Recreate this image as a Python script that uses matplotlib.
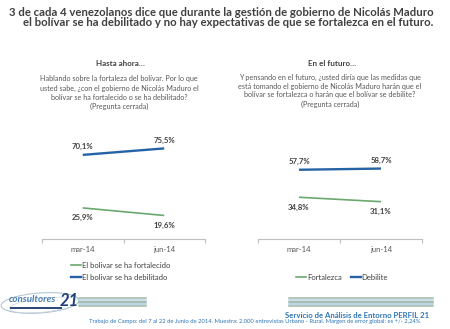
import matplotlib
matplotlib.use("Agg")
import matplotlib.pyplot as plt
from matplotlib.lines import Line2D
from matplotlib.patches import Ellipse, Rectangle

plt.rcParams['font.family'] = ['Lato', 'DejaVu Sans']

categories = ["mar-14", "jun-14"]
left_debilitado = [70.1, 75.5]
left_fortalecido = [25.9, 19.6]
right_debilite = [57.7, 58.7]
right_fortalezca = [34.8, 31.1]
left_legend = ["El bolivar se ha fortalecido", "El bolivar se ha debilitado"]
right_legend = ["Fortalezca", "Debilite"]

BLUE = "#2563a6"
GREEN = "#6aa86e"
GRAY = "#404040"
TXT = "#595959"
W, H = 450, 329

fig = plt.figure(figsize=(4.5, 3.29), dpi=100)
fig.patch.set_facecolor("white")

def fx(x): return x / W
def fy(y): return 1 - y / H

# Title
fig.text(fx(221), fy(12), "3 de cada 4 venezolanos dice que durante la gestión de gobierno de Nicolás Maduro",
         ha="center", va="center", fontsize=8.2, fontweight="bold", color=GRAY)
fig.text(fx(228), fy(23), "el bolívar se ha debilitado y no hay expectativas de que se fortalezca en el futuro.",
         ha="center", va="center", fontsize=8.2, fontweight="bold", color=GRAY)

fig.text(fx(120), fy(63), "Hasta ahora…", ha="center", va="center", fontsize=5.8,
         fontweight="bold", color=GRAY)
fig.text(fx(332), fy(63), "En el futuro…", ha="center", va="center", fontsize=5.8,
         fontweight="bold", color=GRAY)

q_left = ["Hablando sobre la fortaleza del bolívar. Por lo que",
          "usted sabe, ¿con el gobierno de Nicolás Maduro el",
          "bolívar se ha fortalecido o se ha debilitado?",
          "(Pregunta cerrada)"]
q_right = ["Y pensando en el futuro, ¿usted diría que las medidas que",
           "está tomando el gobierno de Nicolás Maduro harán que el",
           "bolívar se fortalezca o harán que el bolívar se debilite?",
           "(Pregunta cerrada)"]
for i, s in enumerate(q_left):
    fig.text(fx(119), fy(79 + 9.3 * i), s, ha="center", va="center", fontsize=5.2, color=TXT)
for i, s in enumerate(q_right):
    fig.text(fx(330), fy(77 + 9.0 * i), s, ha="center", va="center", fontsize=5.2, color=TXT)


def make_panel(left_px, right_px, top_series, bot_series):
    ax = fig.add_axes([fx(left_px), fy(239), (right_px - left_px) / W, 96 / H])
    x = list(range(len(categories)))
    ax.plot(x, top_series, color=BLUE, lw=1.7, solid_capstyle="butt")
    ax.plot(x, bot_series, color=GREEN, lw=1.2, solid_capstyle="butt")
    for xi, v in zip(x, top_series):
        ax.annotate(f"{v:.1f}%".replace(".", ","), (xi, v), xytext=(0, 6), textcoords="offset points",
                    ha="center", va="center", fontsize=5.6, fontweight="bold", color=GRAY)
    for xi, v in zip(x, bot_series):
        ax.annotate(f"{v:.1f}%".replace(".", ","), (xi, v), xytext=(0, -7), textcoords="offset points",
                    ha="center", va="center", fontsize=5.6, fontweight="bold", color=GRAY)
    ax.set_xlim(-0.5, len(categories) - 0.5)
    ax.set_ylim(0, 80)
    for s in ["top", "left", "right"]:
        ax.spines[s].set_visible(False)
    ax.spines["bottom"].set_color("#bfbfbf")
    ax.spines["bottom"].set_linewidth(0.8)
    ax.set_yticks([])
    ax.set_xticks(x)
    ax.set_xticklabels(categories, fontsize=5.5, color=TXT)
    ax.tick_params(axis="x", which="major", length=0, pad=5)
    ax.set_xticks([-0.5 + i for i in range(len(categories) + 1)], minor=True)
    ax.tick_params(axis="x", which="minor", length=3, color="#bfbfbf", width=0.8)
    ax.patch.set_alpha(0)
    return ax

axL = make_panel(42, 205, left_debilitado, left_fortalecido)
axR = make_panel(258, 422, right_debilite, right_fortalezca)

hL = [Line2D([], [], color=GREEN, lw=1.2), Line2D([], [], color=BLUE, lw=1.7)]
fig.legend(hL, left_legend, loc="upper left", bbox_to_anchor=(fx(68), fy(259)),
           frameon=False, fontsize=5.5, handlelength=1.3, handletextpad=0.1,
           labelspacing=0.6, borderaxespad=0, labelcolor=GRAY)
hR = [Line2D([], [], color=GREEN, lw=1.2), Line2D([], [], color=BLUE, lw=1.7)]
fig.legend(hR, right_legend, loc="upper left", bbox_to_anchor=(fx(293), fy(271)),
           frameon=False, fontsize=5.5, handlelength=1.3, handletextpad=0.1,
           columnspacing=1.2, ncol=2, borderaxespad=0, labelcolor=GRAY)

# Decorative logo and stripes
deco = fig.add_axes([0, 0, 1, 1])
deco.set_xlim(0, W)
deco.set_ylim(H, 0)
deco.axis("off")
deco.patch.set_alpha(0)
stripe_cols = ["#9fb5a5", "#b9d6e6", "#8faa98", "#a7cbe0", "#9fb5a5"]
for i, c in enumerate(stripe_cols):
    yy = 298 + 2.0 * i
    deco.plot([79, 146], [yy, yy], color=c, lw=1.1)
    deco.plot([289, 433], [yy, yy], color=c, lw=1.1)
deco.add_patch(Ellipse((40, 303), 78, 20, angle=-4, fill=False, ec="#a9bfd0", lw=0.7))
deco.add_patch(Ellipse((44, 305), 70, 14, angle=-6, fill=False, ec="#c5d5e0", lw=0.5))
deco.text(9, 300, "consultores", fontsize=7.0, fontstyle="italic", fontweight="bold",
          color="#4a7db3", ha="left", va="center")
deco.text(79, 301, "21", fontsize=12, fontstyle="italic", fontweight="bold",
          color="#1f3f7a", ha="right", va="center")
deco.add_patch(Rectangle((10, 306.5), 52, 2.5, color="#2b4a7a", lw=0))

fig.text(fx(357), fy(315), "Servicio de Análisis de Entorno PERFIL 21", ha="center", va="center",
         fontsize=5.6, fontweight="bold", color="#2e75b6")
fig.text(fx(255), fy(322), "Trabajo de Campo: del 7 al 22 de Junio de 2014. Muestra: 2.000 entrevistas Urbano - Rural. Margen de error global: es +/- 2,24%",
         ha="center", va="center", fontsize=4.2, color="#2e75b6")

fig.savefig("out.png", dpi=100, facecolor="white")
